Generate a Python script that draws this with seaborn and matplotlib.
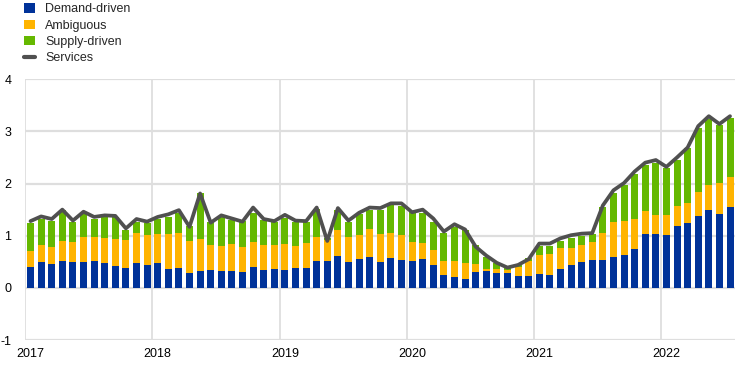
import numpy as np
import pandas as pd
import matplotlib
matplotlib.use("Agg")
import matplotlib.pyplot as plt
import seaborn as sns
from matplotlib.patches import Patch
from matplotlib.lines import Line2D

# ---- data (Jan 2017 - Jul 2022, monthly, percentage points) ----
months = pd.date_range("2017-01-01", periods=67, freq="MS").strftime("%Y-%m").tolist()
demand = [0.41, 0.49, 0.46, 0.52, 0.50, 0.50, 0.52, 0.47, 0.42, 0.39, 0.48, 0.43,
          0.47, 0.36, 0.38, 0.29, 0.32, 0.34, 0.32, 0.32, 0.31, 0.40, 0.34, 0.36,
          0.35, 0.38, 0.39, 0.52, 0.51, 0.61, 0.49, 0.55, 0.59, 0.50, 0.57, 0.54,
          0.52, 0.55, 0.44, 0.25, 0.20, 0.17, 0.31, 0.32, 0.28, 0.28, 0.22, 0.23,
          0.27, 0.25, 0.36, 0.44, 0.49, 0.54, 0.53, 0.59, 0.63, 0.75, 1.03, 1.04,
          1.02, 1.18, 1.24, 1.38, 1.50, 1.41, 1.55]
ambiguous = [0.30, 0.34, 0.32, 0.38, 0.38, 0.48, 0.46, 0.49, 0.52, 0.53, 0.58, 0.58,
             0.57, 0.67, 0.68, 0.61, 0.62, 0.48, 0.48, 0.52, 0.47, 0.48, 0.48, 0.46,
             0.50, 0.43, 0.48, 0.46, 0.41, 0.50, 0.48, 0.46, 0.54, 0.53, 0.48, 0.47,
             0.36, 0.32, 0.28, 0.27, 0.32, 0.31, 0.14, 0.04, 0.08, 0.06, 0.19, 0.29,
             0.36, 0.40, 0.40, 0.33, 0.34, 0.34, 0.53, 0.67, 0.66, 0.57, 0.44, 0.36,
             0.38, 0.39, 0.38, 0.46, 0.47, 0.60, 0.57]
supply = [0.53, 0.49, 0.51, 0.59, 0.39, 0.43, 0.34, 0.40, 0.42, 0.19, 0.21, 0.23,
          0.28, 0.33, 0.37, 0.28, 0.87, 0.45, 0.56, 0.47, 0.51, 0.55, 0.48, 0.45,
          0.48, 0.45, 0.40, 0.54, 0.03, 0.38, 0.30, 0.40, 0.36, 0.46, 0.54, 0.56,
          0.58, 0.57, 0.55, 0.54, 0.65, 0.63, 0.38, 0.24, 0.11, 0.07, 0.03, 0.05,
          0.18, 0.16, 0.14, 0.19, 0.17, 0.16, 0.49, 0.56, 0.68, 0.86, 0.88, 1.00,
          0.89, 0.88, 1.07, 1.23, 1.26, 1.11, 1.14]
services = [1.28, 1.37, 1.32, 1.50, 1.29, 1.46, 1.36, 1.39, 1.38, 1.14, 1.32, 1.27,
            1.36, 1.41, 1.49, 1.17, 1.81, 1.25, 1.39, 1.33, 1.27, 1.54, 1.32, 1.28,
            1.40, 1.29, 1.28, 1.54, 0.90, 1.53, 1.29, 1.44, 1.54, 1.53, 1.62, 1.62,
            1.45, 1.50, 1.33, 1.08, 1.22, 1.12, 0.79, 0.62, 0.48, 0.39, 0.44, 0.55,
            0.85, 0.85, 0.95, 1.01, 1.04, 1.05, 1.58, 1.87, 2.01, 2.23, 2.40, 2.45,
            2.32, 2.50, 2.69, 3.10, 3.29, 3.14, 3.29]
year_labels = ["2017", "2018", "2019", "2020", "2021", "2022"]
series_names = ["Demand-driven", "Ambiguous", "Supply-driven", "Services"]

# ---- styling ----
BLUE, YELLOW, GREEN, GREY = "#003299", "#FFB400", "#65B800", "#505050"
GRID = "#dedede"

sns.set_theme(style="white")
plt.rcParams["font.family"] = ["Liberation Sans", "DejaVu Sans"]

df = pd.DataFrame({"month": months, "demand": demand, "ambiguous": ambiguous,
                   "supply": supply, "services": services})
df["pos"] = np.arange(len(df))
df["top_amb"] = df["demand"] + df["ambiguous"]
df["top_all"] = df["top_amb"] + df["supply"]

fig = plt.figure(figsize=(7.42, 3.75), dpi=100)
ax = fig.add_axes([0.034, 0.093, 0.957, 0.696])

# grid lines
for v in range(-1, 5):
    ax.axhline(v, color=GRID, lw=1.6, zorder=0)
for k in range(len(year_labels)):
    ax.axvline(12 * k - 0.5, color=GRID, lw=1.3, zorder=0)

bar_kw = dict(x="pos", native_scale=True, width=0.66, saturation=1,
              linewidth=0, ax=ax, zorder=2, errorbar=None)
sns.barplot(data=df, y="top_all", color=GREEN, **bar_kw)
sns.barplot(data=df, y="top_amb", color=YELLOW, **bar_kw)
sns.barplot(data=df, y="demand", color=BLUE, **bar_kw)
sns.lineplot(data=df, x="pos", y="services", color=GREY, lw=2.7, ax=ax,
             zorder=3, solid_joinstyle="round", solid_capstyle="round")

ax.set_xlim(-0.5, len(df) - 0.5)
ax.set_ylim(-1, 4)
ax.set_xticks([12 * k for k in range(len(year_labels))])
ax.set_xticklabels(year_labels)
ax.set_yticks(range(-1, 5))
ax.set_yticklabels([str(v) for v in range(-1, 5)])
ax.tick_params(axis="both", length=0, labelsize=9, colors="black")
ax.tick_params(axis="y", pad=10)
ax.tick_params(axis="x", pad=6)
ax.set_xlabel("")
ax.set_ylabel("")
for s in ax.spines.values():
    s.set_visible(False)

handles = [Patch(facecolor=BLUE, edgecolor="none"),
           Patch(facecolor=YELLOW, edgecolor="none"),
           Patch(facecolor=GREEN, edgecolor="none"),
           Line2D([0], [0], color=GREY, lw=3.0)]
fig.legend(handles, series_names, loc="upper left", bbox_to_anchor=(0.029, 0.998),
           frameon=False, fontsize=9, handlelength=0.9, handleheight=0.8,
           handletextpad=0.8, labelspacing=0.33, borderaxespad=0, borderpad=0.2)

fig.savefig("out.png", dpi=100)
